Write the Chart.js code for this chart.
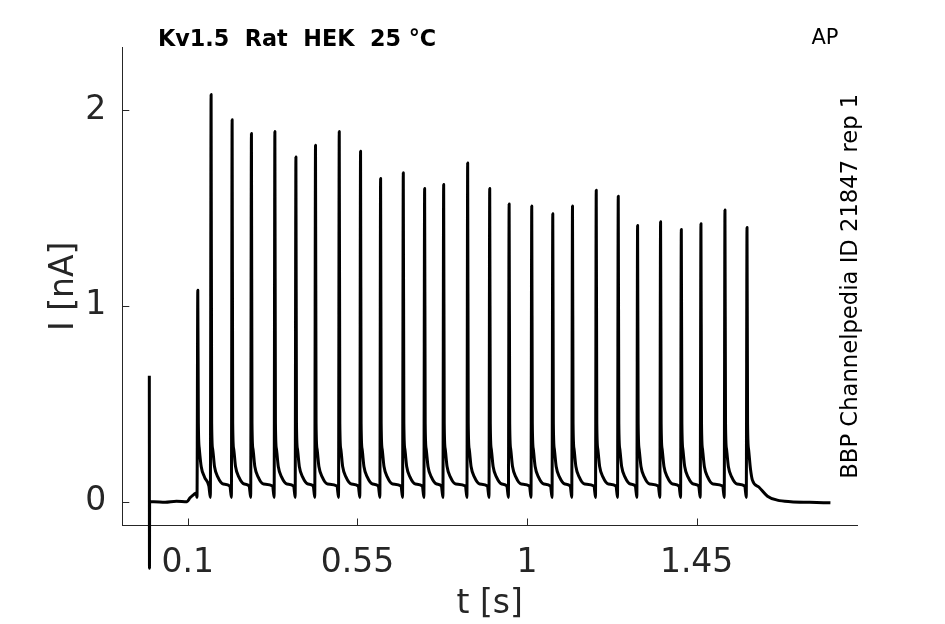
<!DOCTYPE html>
<html><head><meta charset="utf-8">
<script src="https://cdn.jsdelivr.net/npm/chart.js@4.4.1/dist/chart.umd.min.js"></script>
<style>html,body{margin:0;padding:0;background:#fff;overflow:hidden}canvas{display:block}</style>
</head><body>
<canvas id="c" width="945" height="624"></canvas>
<script>
// ---- data ----
const xTickValues = [0.1, 0.55, 1, 1.45];
const xTickLabels = ['0.1', '0.55', '1', '1.45'];
const yTickValues = [0, 1, 2];
const yTickLabels = ['0', '1', '2'];

// stimulus artifact at t≈0
const artifactT = [-0.0020, -0.0016, -0.0012];
const artifactI = [0.643, -0.340, 0.000];

// holding baseline before the AP train
const baselineT = [0.010, 0.040, 0.070, 0.098, 0.106, 0.115, 0.122, 0.1245];
const baselineI = [0.000, -0.003, 0.002, 0.000, 0.020, 0.035, 0.045, 0.022];

// spike times (s) and peak currents (nA)
const spikeT = [0.1266, 0.1619, 0.2177, 0.2689, 0.3311, 0.3869, 0.4389, 0.5019, 0.5584,
  0.6116, 0.6718, 0.7284, 0.7789, 0.8426, 0.9011, 0.9526, 1.0126, 1.0684, 1.1207,
  1.1837, 1.2421, 1.2934, 1.3544, 1.4094, 1.4615, 1.5252, 1.5837];
const spikePeak = [1.08, 2.08, 1.95, 1.88, 1.89, 1.76, 1.82, 1.89, 1.79,
  1.65, 1.68, 1.60, 1.62, 1.73, 1.60, 1.52, 1.51, 1.47, 1.51,
  1.59, 1.56, 1.41, 1.43, 1.39, 1.42, 1.49, 1.40];

// decay after each spike (offset from peak, s) and current (nA)
const decayDt = [0.0015, 0.004, 0.009, 0.018, 0.032];
const decayI = [0.40, 0.27, 0.18, 0.125, 0.09];
// plateau and notch just before the next spike (offset from next spike)
const preDt = [-0.006, -0.002];
const preI = [0.08, 0.022];

// tail after the last spike
const tailT = [1.5852, 1.5877, 1.5927, 1.598, 1.615, 1.638, 1.664, 1.700, 1.750, 1.805];
const tailI = [0.40, 0.27, 0.17, 0.11, 0.075, 0.028, 0.008, 0.000, -0.003, -0.006];

// ---- build the trace table ----
const trace = [];
artifactT.forEach((t, i) => trace.push({x: t, y: artifactI[i]}));
baselineT.forEach((t, i) => trace.push({x: t, y: baselineI[i]}));
spikeT.forEach((t, i) => {
  trace.push({x: t, y: spikePeak[i]});
  if (i < spikeT.length - 1) {
    const next = spikeT[i + 1];
    decayDt.forEach((d, k) => { if (t + d < next + preDt[0]) trace.push({x: t + d, y: decayI[k]}); });
    preDt.forEach((d, k) => trace.push({x: next + d, y: preI[k]}));
  } else {
    tailT.forEach((tt, k) => trace.push({x: tt, y: tailI[k]}));
  }
});

const AX = '#262626';
const FONT = '"DejaVu Sans", sans-serif';

const decor = {
  id: 'decor',
  afterDraw(chart) {
    const ctx = chart.ctx, xs = chart.scales.x, ys = chart.scales.y, a = chart.chartArea;
    ctx.save();
    ctx.strokeStyle = AX; ctx.lineWidth = 1;
    ctx.beginPath();
    xTickValues.forEach(v => { const p = Math.round(xs.getPixelForValue(v)) + 0.5; ctx.moveTo(p, a.bottom); ctx.lineTo(p, a.bottom - 7); });
    yTickValues.forEach(v => { const p = Math.round(ys.getPixelForValue(v)) + 0.5; ctx.moveTo(a.left, p); ctx.lineTo(a.left + 7, p); });
    ctx.stroke();
    ctx.fillStyle = '#000';
    ctx.textBaseline = 'middle';
    ctx.textAlign = 'left';
    ctx.font = 'bold 22.3px ' + FONT;
    ctx.fillText('Kv1.5  Rat  HEK  25 °C', 158, 40);
    ctx.textAlign = 'center';
    ctx.font = '21px ' + FONT;
    ctx.fillText('AP', 825, 39);
    ctx.translate(857, (a.top + a.bottom) / 2);
    ctx.rotate(-Math.PI / 2);
    ctx.textBaseline = 'alphabetic';
    ctx.font = '22.7px ' + FONT;
    ctx.fillText('BBP Channelpedia ID 21847 rep 1', 0, 0);
    ctx.restore();
  }
};

new Chart(document.getElementById('c'), {
  type: 'scatter',
  data: { datasets: [{
    data: trace, showLine: true, pointRadius: 0, borderColor: '#000', backgroundColor: '#000',
    borderWidth: 3, borderJoinStyle: 'round', cubicInterpolationMode: 'monotone', clip: false
  }]},
  options: {
    responsive: false, animation: false, devicePixelRatio: 1,
    layout: { padding: { left: 0, top: 47, right: 88, bottom: 0 } },
    plugins: { legend: { display: false }, tooltip: { enabled: false } },
    scales: {
      x: {
        type: 'linear', min: -0.0737, max: 1.8755,
        afterBuildTicks: s => { s.ticks = xTickValues.map(v => ({value: v})); },
        afterFit: s => { s.height = 98.5; },
        ticks: { callback: (v, i) => xTickLabels[i], font: { family: FONT, size: 33 }, color: AX, padding: 18, maxRotation: 0, autoSkip: false },
        grid: { display: true, drawOnChartArea: false, drawTicks: false },
        border: { display: true, color: AX, width: 1 },
        title: { display: true, text: 't [s]', font: { family: FONT, size: 33 }, color: AX, padding: { top: 0, bottom: 0 } }
      },
      y: {
        type: 'linear', min: -0.1216, max: 2.322,
        afterBuildTicks: s => { s.ticks = yTickValues.map(v => ({value: v})); },
        afterFit: s => { s.width = 122.3; },
        ticks: { callback: (v, i) => yTickLabels[i], font: { family: FONT, size: 33 }, color: AX, padding: 16, autoSkip: false },
        grid: { display: true, drawOnChartArea: false, drawTicks: false },
        border: { display: true, color: AX, width: 1 },
        title: { display: true, text: 'I [nA]', font: { family: FONT, size: 33 }, color: AX, padding: { top: 45, bottom: 0 } }
      }
    }
  },
  plugins: [decor]
});
</script>
</body></html>
